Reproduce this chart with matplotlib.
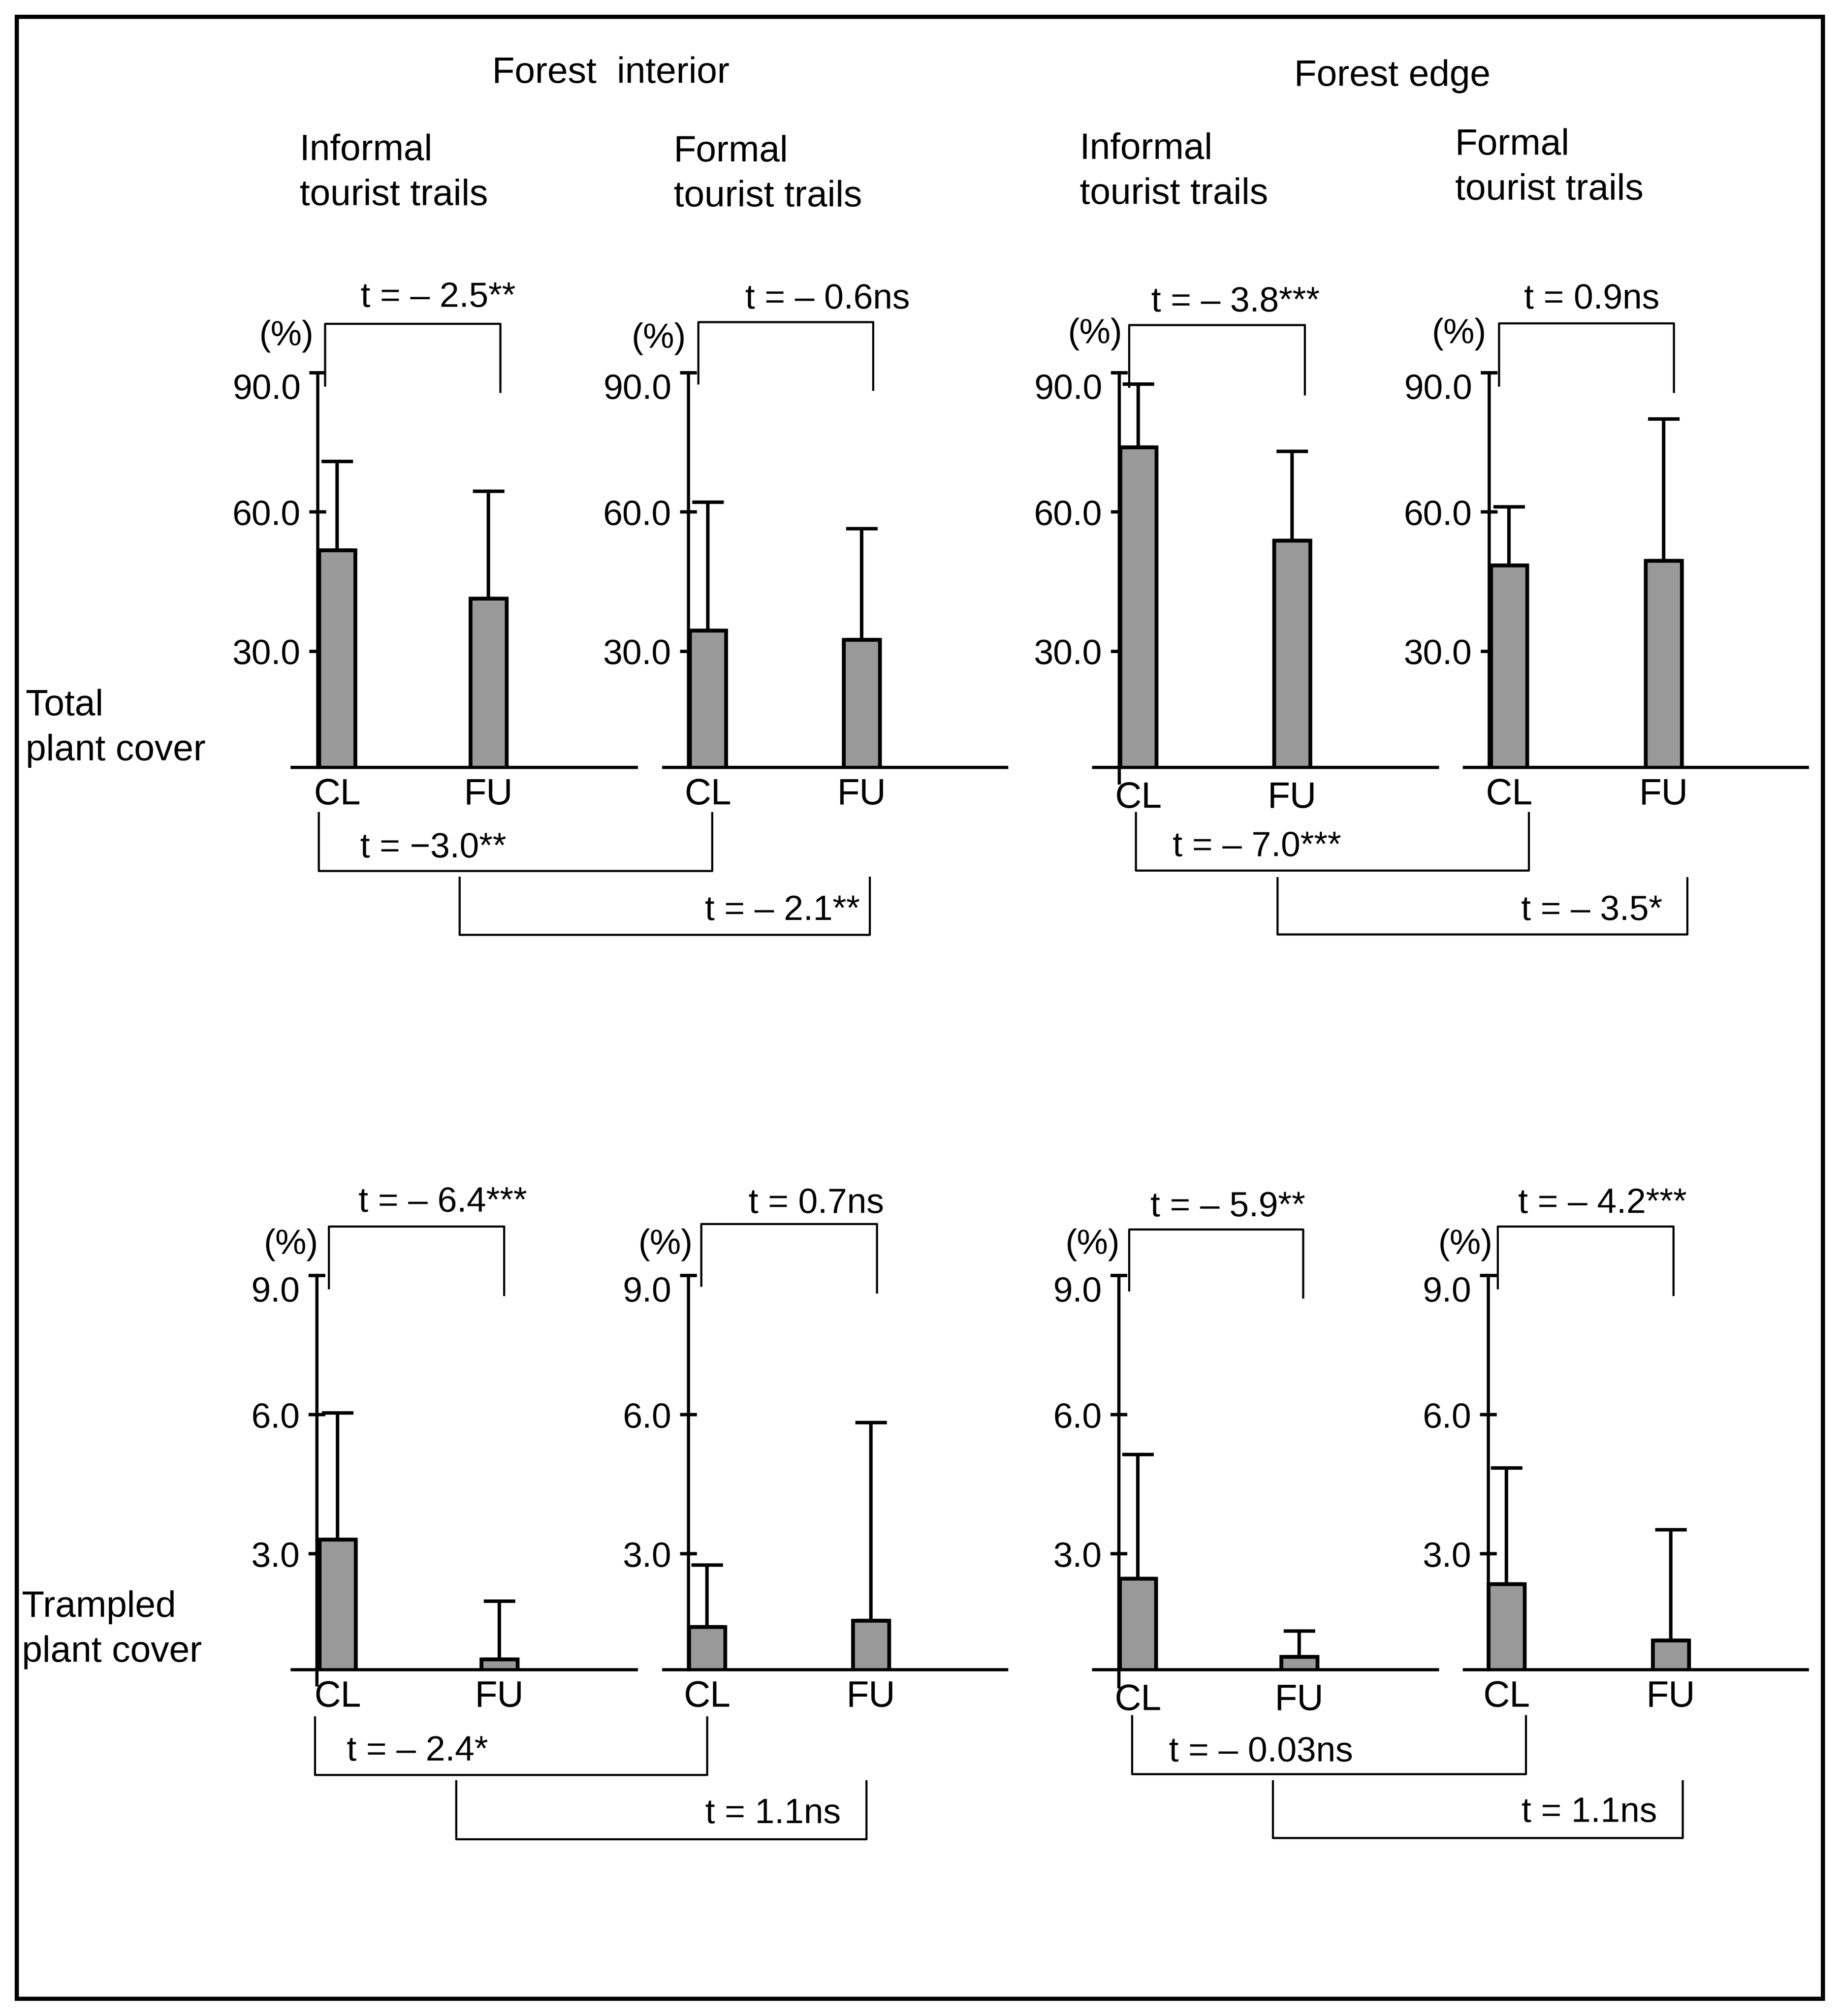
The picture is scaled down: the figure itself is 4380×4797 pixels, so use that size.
import matplotlib
matplotlib.use("Agg")
import matplotlib.pyplot as plt
from matplotlib.patches import Rectangle
from matplotlib.transforms import ScaledTranslation

W, H = 4380, 4797
DPI = 300
plt.rcParams["font.family"] = ["Liberation Sans", "DejaVu Sans"]
FS = 20
FS_TITLE = 21

# ---- data ----
groups = ["CL", "FU"]
trail_titles = ["Informal\ntourist trails", "Formal\ntourist trails",
                "Informal\ntourist trails", "Formal\ntourist trails"]
habitat_titles = ["Forest  interior", "Forest edge"]
row_titles = ["Total\nplant cover", "Trampled\nplant cover"]

total_cl_mean = [51.8, 34.5, 74.0, 48.5]
total_cl_sd = [19.1, 27.6, 13.6, 12.6]
total_fu_mean = [41.4, 32.5, 53.9, 49.5]
total_fu_sd = [23.1, 23.9, 19.2, 30.5]

trampled_cl_mean = [3.31, 1.42, 2.47, 2.35]
trampled_cl_sd = [2.73, 1.34, 2.67, 2.50]
trampled_fu_mean = [0.73, 1.56, 0.78, 1.13]
trampled_fu_sd = [1.25, 4.27, 0.55, 2.39]

total_ticks = [30.0, 60.0, 90.0]
trampled_ticks = [3.0, 6.0, 9.0]

t_within_total = ["t = \u2013 2.5**", "t = \u2013 0.6ns", "t = \u2013 3.8***", "t = 0.9ns"]
t_within_trampled = ["t = \u2013 6.4***", "t = 0.7ns", "t = \u2013 5.9**", "t = \u2013 4.2***"]
t_between_total = ["t = \u22123.0**", "t = \u2013 2.1**", "t = \u2013 7.0***", "t = \u2013 3.5*"]
t_between_trampled = ["t = \u2013 2.4*", "t = 1.1ns", "t = \u2013 0.03ns", "t = 1.1ns"]

# ---- layout in pixels ----
ax_left = [695, 1579, 2602, 3484, 695, 1579, 2602, 3484]
ax_right = [1514, 2395, 3420, 4300, 1514, 2395, 3420, 4300]
yaxis_x = [756, 1638, 2663, 3543, 754, 1638, 2662, 3541]
cl_x = [802, 1684, 2708, 3590, 803, 1682, 2707, 3584]
fu_x = [1162, 2050, 3074, 3958, 1188, 2072, 3091, 3975]
spine_ext = [0, 0, 37, 0, 36, 0, 41, 0]
xlab_pad = [6, 6, 8, 6, 6, 6, 8, 6]
bar_px = 86
row_base = [1826, 3973]
row_top = [887, 3035]
row_ylim = [(5.0, 90.0), (0.5, 9.0)]

pct_pos = [(682, 800), (1568, 806), (2606, 795), (3472, 795),
           (693, 2962), (1584, 2962), (2600, 2962), (3487, 2962)]
# top brackets: x0, x1, ytop, yleft, yright, text x, text y
top_br = [(773, 1190, 770, 917, 932, 1042, 708),
          (1661, 2077, 766, 912, 927, 1969, 712),
          (2686, 3104, 773, 920, 938, 2939, 719),
          (3566, 3982, 769, 917, 932, 3787, 712),
          (782, 1199, 2918, 3065, 3081, 1053, 2861),
          (1668, 2086, 2912, 3059, 3075, 1942, 2864),
          (2686, 3100, 2925, 3070, 3087, 2921, 2872),
          (3563, 3981, 2918, 3065, 3081, 3812, 2864)]
# lower brackets: x0, x1, y0, y1, text x, text y
low_br = [(758, 1694, 1934, 2072, 1031, 2018),
          (1093, 2069, 2088, 2224, 1861, 2167),
          (2702, 3637, 1934, 2071, 2990, 2015),
          (3039, 4014, 2089, 2223, 3787, 2167),
          (749, 1682, 4086, 4223, 993, 4167),
          (1085, 2061, 4238, 4376, 1839, 4316),
          (2693, 3630, 4083, 4221, 3000, 4169),
          (3028, 4003, 4238, 4373, 3781, 4313)]

fig = plt.figure(figsize=(W / DPI, H / DPI), dpi=DPI)

# overlay in pixel coordinates for frame, titles and brackets
ov = fig.add_axes([0, 0, 1, 1])
ov.set_xlim(0, W)
ov.set_ylim(H, 0)
ov.axis("off")
ov.add_patch(Rectangle((40, 40), 4297, 4716, fill=False, lw=2.4, ec="black"))

ov.text(1453, 174, habitat_titles[0], fontsize=FS_TITLE, ha="center", va="center")
ov.text(3313, 182, habitat_titles[1], fontsize=FS_TITLE, ha="center", va="center")
title_pos = [(713, 412), (1603, 415), (2569, 409), (3462, 399)]
for (tx, ty), s in zip(title_pos, trail_titles):
    ov.text(tx, ty, s, fontsize=FS_TITLE, ha="left", va="center", linespacing=1.42)
ov.text(61, 1733, row_titles[0], fontsize=FS_TITLE, ha="left", va="center",
        linespacing=1.42)
ov.text(52, 3878, row_titles[1], fontsize=FS_TITLE, ha="left", va="center",
        linespacing=1.42)

t_top = t_within_total + t_within_trampled
t_low = t_between_total + t_between_trampled
for i in range(8):
    x0, x1, yt, yl, yr, tx, ty = top_br[i]
    ov.plot([x0, x0, x1, x1], [yl, yt, yt, yr], color="black", lw=1.2)
    ov.text(tx, ty, t_top[i], fontsize=FS, ha="center", va="center")
    x0, x1, y0, y1, tx, ty = low_br[i]
    ov.plot([x0, x0, x1, x1], [y0, y1, y1, y0], color="black", lw=1.2)
    ov.text(tx, ty, t_low[i], fontsize=FS, ha="center", va="center")
    px, py = pct_pos[i]
    ov.text(px, py, "(%)", fontsize=FS, ha="center", va="center")

for i in range(8):
    row = i // 4
    j = i % 4
    if row == 0:
        m = [total_cl_mean[j], total_fu_mean[j]]
        sd = [total_cl_sd[j], total_fu_sd[j]]
        ticks = total_ticks
    else:
        m = [trampled_cl_mean[j], trampled_fu_mean[j]]
        sd = [trampled_cl_sd[j], trampled_fu_sd[j]]
        ticks = trampled_ticks
    yb, yt = row_base[row], row_top[row]
    ax = fig.add_axes([ax_left[i] / W, 1 - yb / H,
                       (ax_right[i] - ax_left[i]) / W, (yb - yt) / H])
    ax.patch.set_visible(False)
    unit = fu_x[i] - cl_x[i]
    ax.set_xlim((ax_left[i] - cl_x[i]) / unit, (ax_right[i] - cl_x[i]) / unit)
    lo, hi = row_ylim[row]
    ax.set_ylim(lo, hi)

    ax.bar([0, 1], m, width=bar_px / unit, color="#999999", edgecolor="black",
           linewidth=2.2, zorder=2)
    ax.errorbar([0, 1], m, yerr=[[0, 0], sd], fmt="none", ecolor="black",
                elinewidth=2.0, capsize=9, capthick=2.0, zorder=3)

    for s in ["top", "right"]:
        ax.spines[s].set_visible(False)
    ax.spines["left"].set_position(("data", (yaxis_x[i] - cl_x[i]) / unit))
    ax.spines["left"].set_linewidth(1.8)
    ax.spines["bottom"].set_linewidth(1.8)
    ext = spine_ext[i] / (yb - yt) * (hi - lo)
    ax.spines["left"].set_bounds(lo - ext, hi)
    ax.spines["left"].set_clip_on(False)

    ax.set_yticks(ticks)
    ax.set_yticklabels(["%.1f" % v for v in ticks])
    ax.tick_params(axis="y", direction="inout", length=9.5, width=1.9, pad=5,
                   labelsize=FS)
    top_lbl = ax.get_yticklabels()[-1]
    top_lbl.set_transform(top_lbl.get_transform()
                          + ScaledTranslation(0, -7.5 / 72, fig.dpi_scale_trans))
    ax.set_xticks([0, 1])
    ax.set_xticklabels(groups)
    ax.tick_params(axis="x", length=0, pad=xlab_pad[i], labelsize=FS_TITLE)

fig.savefig("out.png", dpi=DPI)
